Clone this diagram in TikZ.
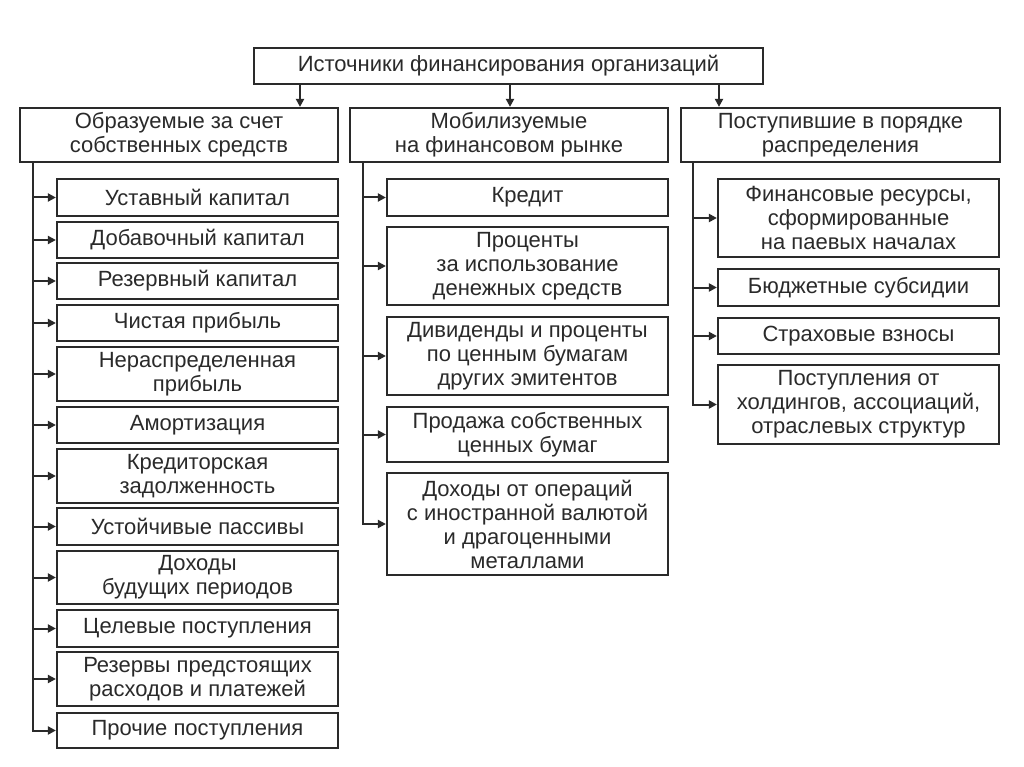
\documentclass[tikz,border=0pt]{standalone}
\usepackage{fontspec}
\setmainfont{Liberation Sans}
\usetikzlibrary{arrows.meta}
\definecolor{ink}{HTML}{2a2a2a}
\newcommand\bx[6]{\node[box,minimum width={#4-#2},minimum height={#5-#3}] (#1) at ({(#2+#4)/2},{(#3+#5)/2}) {#6};}
\begin{document}
\begin{tikzpicture}[x=1pt,y=-1pt,
  box/.style={draw=ink,line width=2.2pt,inner sep=0pt,align=center,text=ink,
    font=\fontsize{22}{24}\selectfont},
  arr/.style={draw=ink,line width=2pt,-{Triangle[length=8pt,width=8pt]}}]
\useasboundingbox[fill=white] (0,0) rectangle (1024,767);
\bx{top}{254}{48}{763}{84}{Источники финансирования организаций}
\bx{h1}{20}{108}{338}{162}{Образуемые за счет\\собственных средств}
\bx{h2}{350}{108}{668}{162}{Мобилизуемые\\на финансовом рынке}
\bx{h3}{681}{108}{1000}{162}{Поступившие в порядке\\распределения}
\draw[arr] (top.south -| 300,0) -- (h1.north -| 300,0);
\draw[arr] (top.south -| 510,0) -- (h2.north -| 510,0);
\draw[arr] (top.south -| 719,0) -- (h3.north -| 719,0);
% column 1
\bx{a1}{57}{179}{338}{216}{Уставный капитал}
\bx{a2}{57}{222}{338}{258}{Добавочный капитал}
\bx{a3}{57}{263}{338}{299}{Резервный капитал}
\bx{a4}{57}{305}{338}{341}{Чистая прибыль}
\bx{a5}{57}{347}{338}{401}{Нераспределенная\\прибыль}
\bx{a6}{57}{407}{338}{443}{Амортизация}
\bx{a7}{57}{449}{338}{503}{Кредиторская\\задолженность}
\bx{a8}{57}{508}{338}{545}{Устойчивые пассивы}
\bx{a9}{57}{551}{338}{604}{Доходы\\будущих периодов}
\bx{a10}{57}{610}{338}{647}{Целевые поступления}
\bx{a11}{57}{652}{338}{706}{Резервы предстоящих\\расходов и платежей}
\bx{a12}{57}{713}{338}{748}{Прочие поступления}
\coordinate (c1) at (33,162);
\foreach \i in {1,...,12} {\draw[arr] (c1) |- (a\i.west);}
% column 2
\bx{b1}{387}{179}{668}{216}{Кредит}
\bx{b2}{387}{227}{668}{305}{Проценты\\за использование\\денежных средств}
\bx{b3}{387}{317}{668}{395}{Дивиденды и проценты\\по ценным бумагам\\других эмитентов}
\bx{b4}{387}{407}{668}{462}{Продажа собственных\\ценных бумаг}
\bx{b5}{387}{473}{668}{575}{Доходы от операций\\с иностранной валютой\\и драгоценными\\металлами}
\coordinate (c2) at (363,162);
\foreach \i in {1,...,5} {\draw[arr] (c2) |- (b\i.west);}
% column 3
\bx{d1}{718}{179}{999}{257}{Финансовые ресурсы,\\сформированные\\на паевых началах}
\bx{d2}{718}{269}{999}{306}{Бюджетные субсидии}
\bx{d3}{718}{318}{999}{354}{Страховые взносы}
\bx{d4}{718}{365}{999}{444}{Поступления от\\холдингов, ассоциаций,\\отраслевых структур}
\coordinate (c3) at (693,162);
\foreach \i in {1,...,4} {\draw[arr] (c3) |- (d\i.west);}
\end{tikzpicture}
\end{document}
